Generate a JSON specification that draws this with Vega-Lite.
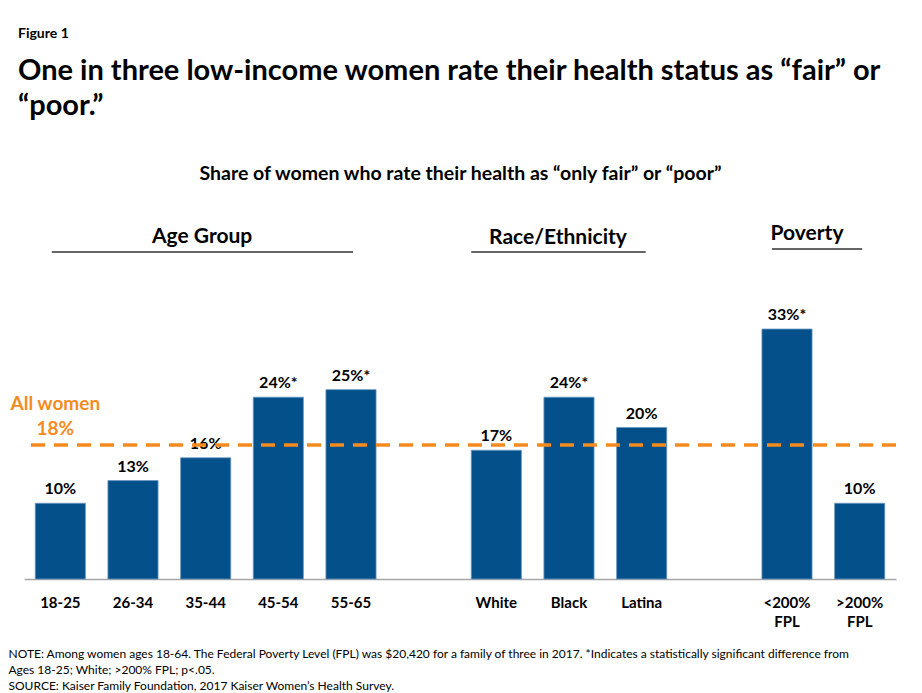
{
  "$schema": "https://vega.github.io/schema/vega-lite/v6.json",
  "width": 872,
  "height": 356,
  "autosize": "none",
  "padding": {"left": 24, "top": 223, "right": 26, "bottom": 114},
  "background": "white",
  "title": {
    "text": "Figure 1",
    "subtitle": ["One in three low-income women rate their health status as “fair” or", "“poor.”"],
    "anchor": "start",
    "frame": "group",
    "dx": -6,
    "offset": 42,
    "font": "Lato",
    "fontSize": 14,
    "fontWeight": "bold",
    "color": "#000000",
    "subtitleFont": "Lato",
    "subtitleFontSize": 29,
    "subtitleFontWeight": "bold",
    "subtitleColor": "#000000",
    "subtitleLineHeight": 35,
    "subtitlePadding": 16
  },
  "data": {
    "values": [
      {"cat": "18-25", "value": 0.10, "label": "10%"},
      {"cat": "26-34", "value": 0.13, "label": "13%"},
      {"cat": "35-44", "value": 0.16, "label": "16%"},
      {"cat": "45-54", "value": 0.24, "label": "24%*"},
      {"cat": "55-65", "value": 0.25, "label": "25%*"},
      {"cat": "White", "value": 0.17, "label": "17%"},
      {"cat": "Black", "value": 0.24, "label": "24%*"},
      {"cat": "Latina", "value": 0.20, "label": "20%"},
      {"cat": "<200% FPL", "value": 0.33, "label": "33%*"},
      {"cat": ">200% FPL", "value": 0.10, "label": "10%"}
    ]
  },
  "layer": [
    {
      "mark": {"type": "bar", "color": "#03508A", "stroke": "#6a98c2", "strokeWidth": 0.8},
      "encoding": {
        "x": {
          "field": "cat",
          "type": "nominal",
          "sort": null,
          "scale": {
            "domain": ["18-25", "26-34", "35-44", "45-54", "55-65", " ", "White", "Black", "Latina", "  ", "<200% FPL", ">200% FPL"],
            "paddingInner": 0.31,
            "paddingOuter": 0.155
          },
          "axis": {
            "orient": "bottom",
            "labelAngle": 0,
            "ticks": false,
            "domainColor": "#a6a6a6",
            "domainWidth": 1.5,
            "labelFont": "Lato",
            "labelFontSize": 15,
            "labelFontWeight": "bold",
            "labelColor": "#000000",
            "labelPadding": 16,
            "labelLineHeight": 19,
            "labelExpr": "split(datum.label, ' ')",
            "title": [
              "NOTE: Among women ages 18-64. The Federal Poverty Level (FPL) was $20,420 for a family of three in 2017.  *Indicates a statistically significant difference from",
              "Ages 18-25; White; >200% FPL; p<.05.",
              "SOURCE: Kaiser Family Foundation, 2017 Kaiser Women’s Health Survey."
            ],
            "titleFont": "Lato",
            "titleFontSize": 12,
            "titleFontWeight": "normal",
            "titleColor": "#000000",
            "titleLineHeight": 16,
            "titleAnchor": "start",
            "titleAlign": "left",
            "titleX": -16,
            "titlePadding": 0
          }
        },
        "y": {"field": "value", "type": "quantitative", "scale": {"domain": [0, 0.47], "nice": false, "zero": true}, "axis": null}
      }
    },
    {
      "mark": {"type": "text", "baseline": "bottom", "dy": -6, "font": "Lato", "fontSize": 16, "fontWeight": "bold", "color": "#000000"},
      "encoding": {
        "x": {
          "field": "cat",
          "type": "nominal",
          "axis": {
            "orient": "top",
            "title": "Share of women who rate their health as “only fair” or “poor”",
            "labels": false,
            "ticks": false,
            "domain": false,
            "titleFont": "Lato",
            "titleFontSize": 19.5,
            "titleFontWeight": "bold",
            "titleColor": "#000000",
            "titlePadding": 40
          }
        },
        "y": {"field": "value", "type": "quantitative"},
        "text": {"field": "label"}
      }
    },
    {
      "data": {"values": [{"who": "All women", "avg": 0.177, "cat": "18-25", "txt": "All women\n18%"}]},
      "layer": [
        {
          "mark": {"type": "rule", "color": "#F58B1F", "strokeWidth": 3.5, "strokeDash": [14, 9]},
          "encoding": {"y": {"field": "avg", "type": "quantitative"}}
        },
        {
          "mark": {"type": "text", "baseline": "bottom", "align": "center", "dx": -5, "dy": -31, "lineBreak": "\n", "lineHeight": 25, "font": "Lato", "fontSize": 19, "fontWeight": "bold", "color": "#F58B1F"},
          "encoding": {
            "x": {"field": "cat", "type": "nominal", "axis": null},
            "y": {"field": "avg", "type": "quantitative"},
            "text": {"field": "txt"}
          }
        }
      ]
    },
    {
      "data": {"values": [{"group": "Age Group", "from": "18-25", "to": "55-65", "mid": "35-44"}]},
      "layer": [
        {
          "mark": {"type": "text", "font": "Lato", "fontSize": 21, "fontWeight": "bold", "color": "#000000", "baseline": "middle"},
          "encoding": {
            "x": {"field": "mid", "type": "nominal", "bandPosition": 0.43, "axis": null},
            "y": {"datum": 0.452, "type": "quantitative"},
            "text": {"field": "group"}
          }
        },
        {
          "mark": {"type": "rule", "color": "#333333", "strokeWidth": 1.5},
          "encoding": {
            "x": {"field": "from", "type": "nominal", "bandPosition": 0.33, "axis": null},
            "x2": {"field": "to", "bandPosition": 0.54},
            "y": {"datum": 0.4317, "type": "quantitative"}
          }
        }
      ]
    },
    {
      "data": {"values": [{"group": "Race/Ethnicity", "from": "White", "to": "Latina", "mid": "Black"}]},
      "layer": [
        {
          "mark": {"type": "text", "font": "Lato", "fontSize": 21, "fontWeight": "bold", "color": "#000000", "baseline": "middle"},
          "encoding": {
            "x": {"field": "mid", "type": "nominal", "bandPosition": 0.28, "axis": null},
            "y": {"datum": 0.450, "type": "quantitative"},
            "text": {"field": "group"}
          }
        },
        {
          "mark": {"type": "rule", "color": "#333333", "strokeWidth": 1.5},
          "encoding": {
            "x": {"field": "from", "type": "nominal", "bandPosition": 0.0, "axis": null},
            "x2": {"field": "to", "bandPosition": 0.58},
            "y": {"datum": 0.4317, "type": "quantitative"}
          }
        }
      ]
    },
    {
      "data": {"values": [{"group": "Poverty", "from": "<200% FPL", "to": ">200% FPL", "mid": "<200% FPL"}]},
      "layer": [
        {
          "mark": {"type": "text", "font": "Lato", "fontSize": 21, "fontWeight": "bold", "color": "#000000", "baseline": "middle"},
          "encoding": {
            "x": {"field": "mid", "type": "nominal", "bandPosition": 0.9, "axis": null},
            "y": {"datum": 0.4555, "type": "quantitative"},
            "text": {"field": "group"}
          }
        },
        {
          "mark": {"type": "rule", "color": "#333333", "strokeWidth": 1.5},
          "encoding": {
            "x": {"field": "from", "type": "nominal", "bandPosition": 0.2, "axis": null},
            "x2": {"field": "to", "bandPosition": 0.55},
            "y": {"datum": 0.4357, "type": "quantitative"}
          }
        }
      ]
    }
  ],
  "resolve": {"axis": {"x": "independent"}},
  "config": {"view": {"stroke": null}}
}
